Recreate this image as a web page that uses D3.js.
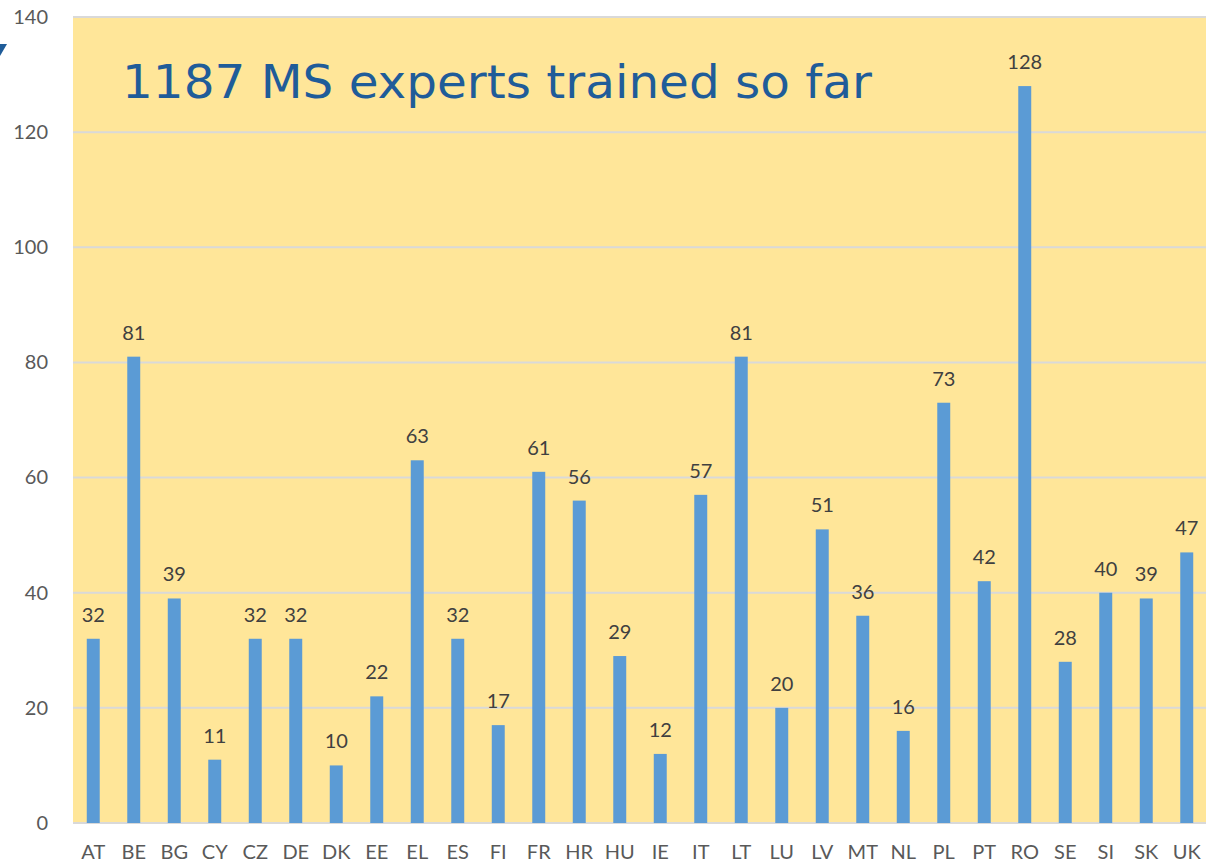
<!DOCTYPE html>
<html>
<head>
<meta charset="utf-8">
<script src="https://cdn.jsdelivr.net/npm/d3@7"></script>
<style>
  body { margin: 0; background: #fff; }
  svg { display: block; }
</style>
</head>
<body>
<script>
const width = 1206;
const height = 863;

const countries = ["AT", "BE", "BG", "CY", "CZ", "DE", "DK", "EE", "EL", "ES", "FI", "FR", "HR", "HU",
    "IE", "IT", "LT", "LU", "LV", "MT", "NL", "PL", "PT", "RO", "SE", "SI", "SK", "UK"];
const experts = [32, 81, 39, 11, 32, 32, 10, 22, 63, 32, 17, 61, 56, 29,
    12, 57, 81, 20, 51, 36, 16, 73, 42, 128, 28, 40, 39, 47];
const yTicks = [0, 20, 40, 60, 80, 100, 120, 140];
const title = "1187 MS experts trained so far";

const margin = {top: 17, right: -1, bottom: 40, left: 73};

const svg = d3.select("body").append("svg")
    .attr("width", width)
    .attr("height", height);

const x = d3.scaleBand()
    .domain(countries)
    .range([margin.left, width - margin.right])
    .paddingInner(0.68)
    .paddingOuter(0.34);

const y = d3.scaleLinear()
    .domain([0, 140])
    .range([height - margin.bottom, margin.top]);

// plot background
svg.append("rect")
    .attr("x", margin.left)
    .attr("y", y(140))
    .attr("width", width - margin.right - margin.left)
    .attr("height", y(0) - y(140))
    .attr("fill", "#ffe699");

// gridlines
svg.append("g")
    .selectAll("line")
    .data(yTicks)
    .join("line")
    .attr("x1", margin.left)
    .attr("x2", width)
    .attr("y1", d => y(d))
    .attr("y2", d => y(d))
    .attr("stroke", "#d9d9d9")
    .attr("stroke-width", 2);

const labelFont = "Lato, 'Open Sans', sans-serif";

// y axis labels
const yAxis = svg.append("g")
    .attr("transform", `translate(${margin.left - 25},0)`)
    .call(d3.axisLeft(y).tickValues(yTicks).tickSize(0).tickPadding(0));
yAxis.select(".domain").remove();
yAxis.selectAll("text")
    .attr("fill", "#595959")
    .style("font-family", labelFont)
    .style("font-size", "20px");

// x axis labels
const xAxis = svg.append("g")
    .attr("transform", `translate(0,${y(0)})`)
    .call(d3.axisBottom(x).tickSize(0).tickPadding(22));
xAxis.select(".domain").remove();
xAxis.selectAll("text")
    .attr("fill", "#595959")
    .style("font-family", labelFont)
    .style("font-size", "20px");

// bars
svg.append("g")
    .selectAll("rect")
    .data(experts)
    .join("rect")
    .attr("x", (d, i) => x(countries[i]))
    .attr("y", d => y(d))
    .attr("width", x.bandwidth())
    .attr("height", d => y(0) - y(d))
    .attr("fill", "#5b9bd5");

// value labels
svg.append("g")
    .selectAll("text")
    .data(experts)
    .join("text")
    .attr("x", (d, i) => x(countries[i]) + x.bandwidth() / 2)
    .attr("y", d => y(d) - 17)
    .attr("text-anchor", "middle")
    .attr("fill", "#404040")
    .style("font-family", labelFont)
    .style("font-size", "20px")
    .text(d => d);

// title
svg.append("text")
    .attr("x", 122)
    .attr("y", 98)
    .attr("fill", "#1f5c99")
    .style("font-family", "'DejaVu Sans', Verdana, sans-serif")
    .style("font-size", "47px")
    .attr("textLength", 750)
    .attr("lengthAdjust", "spacingAndGlyphs")
    .text(title);

// small corner mark
svg.append("path")
    .attr("d", "M0,44 L7,44 L0,56 Z")
    .attr("fill", "#1f5c99");
</script>
</body>
</html>
